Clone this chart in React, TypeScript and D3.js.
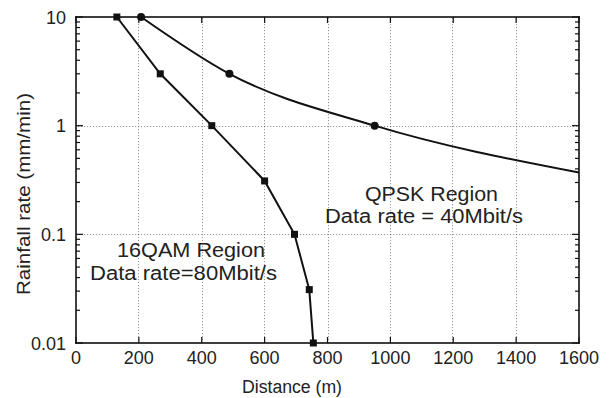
import * as d3 from "d3";
import React from "react";

// 16QAM threshold curve (squares)
const qamDistance = [130, 268, 432, 600, 695, 742, 755];
const qamRain = [10, 3, 1, 0.31, 0.1, 0.031, 0.01];

// QPSK threshold curve (circles); last point is the line end, no marker
const qpskDistance = [207, 488, 950, 1600];
const qpskRain = [10, 3, 1, 0.37];
const qpskMarked = [true, true, true, false];

const xTicks = [0, 200, 400, 600, 800, 1000, 1200, 1400, 1600];
const yTicks = [10, 1, 0.1, 0.01];
const yTickLabels = ["10", "1", "0.1", "0.01"];

const W = 613;
const H = 398;
const margin = { top: 17, right: 34, bottom: 55, left: 76 };
const font = "'Liberation Sans', Arial, Helvetica, sans-serif";

export default function App() {
  const x = d3.scaleLinear().domain([0, 1600]).range([margin.left, W - margin.right]);
  const y = d3.scaleLog().domain([0.01, 10]).range([H - margin.bottom, margin.top]);

  const qam: [number, number][] = qamDistance.map((d, i) => [d, qamRain[i]]);
  const qpsk: [number, number][] = qpskDistance.map((d, i) => [d, qpskRain[i]]);

  const qamLine = d3
    .line<[number, number]>()
    .x((d) => x(d[0]))
    .y((d) => y(d[1]));
  const qpskLine = d3
    .line<[number, number]>()
    .x((d) => x(d[0]))
    .y((d) => y(d[1]))
    .curve(d3.curveMonotoneX);

  // minor ticks 2..9 per decade
  const minor: number[] = [];
  [0.01, 0.1, 1].forEach((dec) => {
    for (let k = 2; k <= 9; k++) minor.push(dec * k);
  });

  const xl = x(0), xr = x(1600), yb = y(0.01), yt = y(10);
  const fw = 1.6; // frame thickness

  return (
    <svg width={W} height={H} style={{ display: "block", position: "absolute", left: 0, top: 0, background: "#fff" }}>
      <defs>
        <pattern id="dotV" width={2} height={3} patternUnits="userSpaceOnUse">
          <rect width={1} height={1.2} fill="#333" />
        </pattern>
        <pattern id="dotH" width={3} height={2} patternUnits="userSpaceOnUse">
          <rect width={1.2} height={1} fill="#333" />
        </pattern>
      </defs>

      {/* dotted grid as filled strips */}
      {xTicks.slice(1, -1).map((t) => (
        <rect key={"gx" + t} x={Math.round(x(t)) - 0.5} y={yt} width={1} height={yb - yt} fill="url(#dotV)" />
      ))}
      {[1, 0.1].map((t) => (
        <rect key={"gy" + t} x={xl} y={Math.round(y(t)) - 0.5} width={xr - xl} height={1} fill="url(#dotH)" />
      ))}

      {/* inside ticks as filled bars */}
      {minor.map((t, i) => (
        <g key={"m" + i}>
          <rect x={xl} y={y(t) - 0.6} width={4} height={1.2} fill="#111" />
          <rect x={xr - 4} y={y(t) - 0.6} width={4} height={1.2} fill="#111" />
        </g>
      ))}
      {yTicks.map((t, i) => (
        <g key={"M" + i}>
          <rect x={xl} y={y(t) - 0.6} width={7} height={1.2} fill="#111" />
          <rect x={xr - 7} y={y(t) - 0.6} width={7} height={1.2} fill="#111" />
        </g>
      ))}
      {xTicks.map((t, i) => (
        <g key={"xt" + i}>
          <rect x={x(t) - 0.6} y={yb - 6} width={1.2} height={6} fill="#111" />
          <rect x={x(t) - 0.6} y={yt} width={1.2} height={6} fill="#111" />
        </g>
      ))}

      {/* frame as four filled bars */}
      <rect x={xl - fw / 2} y={yt - fw / 2} width={xr - xl + fw} height={fw} fill="#111" />
      <rect x={xl - fw / 2} y={yb - fw / 2} width={xr - xl + fw} height={fw} fill="#111" />
      <rect x={xl - fw / 2} y={yt - fw / 2} width={fw} height={yb - yt + fw} fill="#111" />
      <rect x={xr - fw / 2} y={yt - fw / 2} width={fw} height={yb - yt + fw} fill="#111" />

      {/* curves */}
      <path d={qamLine(qam) || ""} fill="none" stroke="#111" strokeWidth={2} />
      <path d={qpskLine(qpsk) || ""} fill="none" stroke="#111" strokeWidth={2} />
      {qam.map((d, i) => (
        <rect key={"q" + i} x={x(d[0]) - 3.5} y={y(d[1]) - 3.5} width={7} height={7} fill="#111" />
      ))}
      {qpsk.map((d, i) =>
        qpskMarked[i] ? <circle key={"p" + i} cx={x(d[0])} cy={y(d[1])} r={4} fill="#111" /> : null
      )}

      {/* tick labels */}
      <g fontFamily={font} fontSize={18} fill="#222">
        {xTicks.map((t) => (
          <text key={"xl" + t} x={x(t)} y={364} textAnchor="middle">
            {t}
          </text>
        ))}
        {yTicks.map((t, i) => (
          <text key={"yl" + t} x={66} y={y(t) + 6.5} textAnchor="end">
            {yTickLabels[i]}
          </text>
        ))}
        <text x={292} y={393} textAnchor="middle" textLength={100} lengthAdjust="spacingAndGlyphs">
          Distance (m)
        </text>
        <text transform="translate(30,194) rotate(-90)" textAnchor="middle" textLength={202} lengthAdjust="spacingAndGlyphs">
          Rainfall rate (mm/min)
        </text>
      </g>

      {/* annotations */}
      <g fontFamily={font} fontSize={19.5} fill="#222" textAnchor="middle">
        <text x={431.5} y={201} textLength={133} lengthAdjust="spacingAndGlyphs">QPSK Region</text>
        <text x={424} y={223} textLength={198} lengthAdjust="spacingAndGlyphs">Data rate = 40Mbit/s</text>
        <text x={191} y={257} textLength={148} lengthAdjust="spacingAndGlyphs">16QAM Region</text>
        <text x={183.5} y={280} textLength={187} lengthAdjust="spacingAndGlyphs">Data rate=80Mbit/s</text>
      </g>
    </svg>
  );
}
